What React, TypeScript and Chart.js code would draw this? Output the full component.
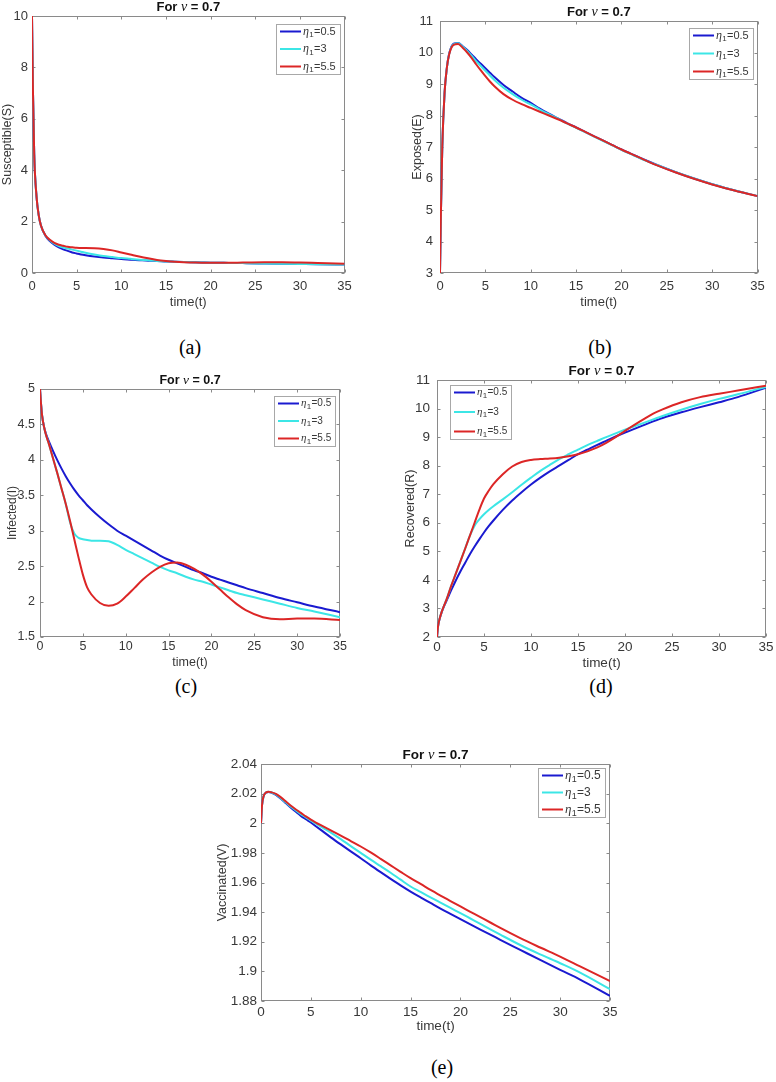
import React, { useEffect, useRef } from "react";
import { Chart, registerables } from "chart.js";

Chart.register(...registerables);

// ---------------- data ----------------
const TIME = [0, 0.1, 0.25, 0.5, 0.75, 1, 1.5, 2, 2.5, 3, 3.5, 4, 4.5, 5, 5.5, 6, 7, 8, 9, 10, 11, 12, 13, 14, 15, 16, 17, 18, 19, 20, 21, 22, 23, 24, 26, 28, 30, 32, 35];

const ETA1_VALUES = ["0.5", "3", "5.5"];
const NU_VALUE = "0.7";
const X_TITLE = "time(t)";
const CAPTIONS = ["(a)", "(b)", "(c)", "(d)", "(e)"];

const SUSCEPTIBLE_ETA_05 = [10, 7.2, 4.6, 3.0, 2.25, 1.85, 1.45, 1.24, 1.1, 1.0, 0.92, 0.86, 0.8, 0.76, 0.72, 0.69, 0.64, 0.6, 0.57, 0.54, 0.52, 0.5, 0.48, 0.47, 0.45, 0.44, 0.43, 0.42, 0.41, 0.4, 0.4, 0.39, 0.39, 0.38, 0.37, 0.36, 0.35, 0.34, 0.33];
const SUSCEPTIBLE_ETA_3 = [10, 7.2, 4.6, 3.0, 2.25, 1.85, 1.46, 1.27, 1.14, 1.05, 0.99, 0.95, 0.91, 0.87, 0.83, 0.79, 0.72, 0.66, 0.62, 0.58, 0.55, 0.52, 0.5, 0.47, 0.45, 0.44, 0.43, 0.42, 0.41, 0.4, 0.4, 0.39, 0.39, 0.38, 0.37, 0.36, 0.35, 0.34, 0.33];
const SUSCEPTIBLE_ETA_55 = [10, 7.2, 4.6, 3.0, 2.25, 1.85, 1.47, 1.29, 1.17, 1.1, 1.06, 1.02, 1.0, 0.98, 0.97, 0.97, 0.96, 0.93, 0.88, 0.8, 0.72, 0.64, 0.57, 0.51, 0.47, 0.44, 0.42, 0.41, 0.4, 0.4, 0.4, 0.4, 0.4, 0.41, 0.42, 0.42, 0.41, 0.39, 0.36];

const EXPOSED_ETA_05 = [3, 4.9, 7.0, 8.7, 9.5, 9.95, 10.28, 10.3, 10.2, 10.08, 9.93, 9.78, 9.64, 9.5, 9.36, 9.22, 8.97, 8.76, 8.56, 8.4, 8.22, 8.06, 7.91, 7.76, 7.62, 7.48, 7.34, 7.2, 7.06, 6.92, 6.79, 6.66, 6.54, 6.42, 6.2, 6.0, 5.82, 5.66, 5.44];
const EXPOSED_ETA_3 = [3, 4.9, 7.0, 8.7, 9.5, 9.94, 10.26, 10.29, 10.18, 10.05, 9.89, 9.72, 9.57, 9.42, 9.27, 9.13, 8.88, 8.68, 8.5, 8.35, 8.19, 8.04, 7.9, 7.75, 7.61, 7.47, 7.33, 7.19, 7.05, 6.91, 6.78, 6.65, 6.53, 6.42, 6.2, 6.0, 5.82, 5.66, 5.44];
const EXPOSED_ETA_55 = [3, 4.9, 7.0, 8.7, 9.5, 9.93, 10.24, 10.27, 10.15, 10.0, 9.82, 9.62, 9.43, 9.25, 9.08, 8.93, 8.68, 8.5, 8.36, 8.24, 8.12, 8.0, 7.88, 7.75, 7.62, 7.48, 7.34, 7.2, 7.06, 6.92, 6.79, 6.66, 6.53, 6.41, 6.19, 5.99, 5.81, 5.65, 5.44];

const INFECTED_ETA_05 = [5, 4.82, 4.62, 4.45, 4.35, 4.27, 4.13, 4.0, 3.88, 3.77, 3.67, 3.58, 3.5, 3.43, 3.36, 3.3, 3.19, 3.09, 3.0, 2.93, 2.86, 2.79, 2.72, 2.65, 2.59, 2.54, 2.49, 2.44, 2.4, 2.35, 2.31, 2.27, 2.23, 2.19, 2.12, 2.05, 1.99, 1.93, 1.85];
const INFECTED_ETA_3 = [5, 4.82, 4.62, 4.45, 4.33, 4.24, 4.03, 3.82, 3.6, 3.38, 3.12, 2.96, 2.9, 2.88, 2.87, 2.86, 2.86, 2.85, 2.8, 2.73, 2.67, 2.61, 2.55, 2.49, 2.44, 2.4, 2.35, 2.31, 2.28, 2.24, 2.2, 2.16, 2.12, 2.09, 2.03, 1.97, 1.91, 1.86, 1.78];
const INFECTED_ETA_55 = [5, 4.82, 4.62, 4.45, 4.33, 4.24, 4.03, 3.82, 3.6, 3.38, 3.14, 2.88, 2.62, 2.38, 2.2, 2.1, 1.98, 1.94, 1.97, 2.07, 2.19, 2.31, 2.41, 2.49, 2.54, 2.55, 2.52, 2.46, 2.38, 2.28, 2.17, 2.06, 1.96, 1.88, 1.78, 1.75, 1.76, 1.76, 1.74];

const RECOVERED_ETA_05 = [2, 2.35, 2.6, 2.87, 3.08, 3.26, 3.63, 3.98, 4.3, 4.6, 4.9, 5.17, 5.42, 5.66, 5.88, 6.08, 6.45, 6.78, 7.07, 7.34, 7.58, 7.8, 8.0, 8.2, 8.4, 8.56, 8.72, 8.87, 9.02, 9.16, 9.29, 9.42, 9.55, 9.67, 9.87, 10.05, 10.22, 10.4, 10.73];
const RECOVERED_ETA_3 = [2, 2.35, 2.6, 2.88, 3.1, 3.3, 3.78, 4.22, 4.66, 5.1, 5.55, 5.9, 6.12, 6.3, 6.45, 6.58, 6.82, 7.07, 7.33, 7.58, 7.82, 8.03, 8.23, 8.4, 8.56, 8.72, 8.86, 9.0, 9.13, 9.26, 9.38, 9.5, 9.62, 9.74, 9.96, 10.16, 10.34, 10.5, 10.76];
const RECOVERED_ETA_55 = [2, 2.35, 2.6, 2.88, 3.1, 3.3, 3.78, 4.22, 4.66, 5.1, 5.55, 6.0, 6.45, 6.85, 7.12, 7.35, 7.7, 7.97, 8.13, 8.2, 8.23, 8.25, 8.28, 8.33, 8.4, 8.5, 8.63, 8.8, 9.0, 9.22, 9.43, 9.63, 9.82, 9.97, 10.22, 10.4, 10.52, 10.63, 10.8];

const VACCINATED_ETA_05 = [2.0, 2.012, 2.018, 2.0207, 2.0211, 2.0208, 2.0192, 2.0165, 2.0135, 2.0105, 2.0077, 2.005, 2.0027, 2.0005, 1.998, 1.9955, 1.9905, 1.9857, 1.981, 1.9764, 1.9716, 1.967, 1.9625, 1.9581, 1.9539, 1.95, 1.9462, 1.9424, 1.9388, 1.9352, 1.9317, 1.9282, 1.9248, 1.9213, 1.9145, 1.9077, 1.901, 1.8945, 1.8835];
const VACCINATED_ETA_3 = [2.0, 2.012, 2.018, 2.0207, 2.0212, 2.0209, 2.0194, 2.0168, 2.014, 2.0112, 2.0087, 2.0062, 2.004, 2.0018, 1.9997, 1.9977, 1.9937, 1.9893, 1.9846, 1.98, 1.9754, 1.971, 1.9666, 1.9619, 1.9573, 1.9536, 1.95, 1.9464, 1.9428, 1.9393, 1.9357, 1.9321, 1.9284, 1.9248, 1.9178, 1.9115, 1.9055, 1.8992, 1.888];
const VACCINATED_ETA_55 = [2.0, 2.012, 2.018, 2.0208, 2.0213, 2.021, 2.0198, 2.0175, 2.0147, 2.0118, 2.0093, 2.007, 2.0046, 2.0024, 2.0005, 1.9987, 1.9952, 1.9917, 1.988, 1.9843, 1.9803, 1.976, 1.9716, 1.9672, 1.9629, 1.959, 1.955, 1.9512, 1.9475, 1.9438, 1.9402, 1.9366, 1.933, 1.9293, 1.9224, 1.9161, 1.91, 1.9034, 1.8935];

const Y_TITLES = ["Susceptible(S)", "Exposed(E)", "Infected(I)", "Recovered(R)", "Vaccinated(V)"];
const Y_MIN = [0, 3, 1.5, 2, 1.88];
const Y_MAX = [10, 11, 5, 11, 2.04];
const Y_STEP = [2, 1, 0.5, 1, 0.02];
const X_MIN = 0;
const X_MAX = 35;
const X_STEP = 5;

const PANEL_SERIES = [
  [SUSCEPTIBLE_ETA_05, SUSCEPTIBLE_ETA_3, SUSCEPTIBLE_ETA_55],
  [EXPOSED_ETA_05, EXPOSED_ETA_3, EXPOSED_ETA_55],
  [INFECTED_ETA_05, INFECTED_ETA_3, INFECTED_ETA_55],
  [RECOVERED_ETA_05, RECOVERED_ETA_3, RECOVERED_ETA_55],
  [VACCINATED_ETA_05, VACCINATED_ETA_3, VACCINATED_ETA_55],
];

// ---------------- styling / layout ----------------
const LINE_COLORS = ["#1a1ad0", "#3ce6e6", "#dc2626"];
const AXIS_COLOR = "#8a8a8a";
const TEXT_COLOR = "#383838";
const SANS = '"Liberation Sans", Arial, Helvetica, sans-serif';
const SERIF = '"Liberation Serif", "Times New Roman", serif';

// plot-area rectangles and text anchor positions (page pixels)
const LAYOUT = [
  { L: 32, T: 16, R: 345, B: 273, fs: 13, yfs: 12.5, lfs: 11, yTitleX: 7.5, xTickY: 286, xTitleY: 302, yPad: 4, legend: "right", lgTop: 8, lgH: 50, cap: [190, 347] },
  { L: 440, T: 21, R: 758, B: 273, fs: 13, yfs: 12.5, lfs: 11, yTitleX: 417, xTickY: 286, xTitleY: 302, yPad: 7, legend: "right", lgTop: 7, lgH: 51, cap: [600, 347] },
  { L: 40, T: 389, R: 340, B: 637, fs: 12.5, yfs: 12, lfs: 10, yTitleX: 12, xTickY: 647, xTitleY: 663, yPad: 5, legend: "right", lgTop: 7, lgH: 50, cap: [186, 686] },
  { L: 437, T: 380, R: 766, B: 637, fs: 13.5, yfs: 12.5, lfs: 10, yTitleX: 410, xTickY: 647, xTitleY: 663, yPad: 7, legend: "left", lgTop: 5, lgH: 54, cap: [601, 686] },
  { L: 261, T: 764, R: 610, B: 1001, fs: 13.5, yfs: 12.5, lfs: 12, yTitleX: 222, xTickY: 1012, xTitleY: 1026, yPad: 4, legend: "right", lgTop: 4, lgH: 49, cap: [442, 1067] },
];

function fmt(v: number) {
  return String(parseFloat(v.toFixed(4)));
}

function drawEta(ctx: CanvasRenderingContext2D, x: number, y: number, value: string, fs: number, doDraw: boolean) {
  let cx = x;
  ctx.font = `italic ${fs + 1}px ${SERIF}`;
  if (doDraw) ctx.fillText("\u03b7", cx, y);
  cx += ctx.measureText("\u03b7").width + 0.3;
  ctx.font = `${Math.round(fs * 0.75)}px ${SANS}`;
  if (doDraw) ctx.fillText("1", cx, y + fs * 0.32);
  cx += ctx.measureText("1").width + 0.3;
  ctx.font = `${fs}px ${SANS}`;
  if (doDraw) ctx.fillText("=" + value, cx, y);
  cx += ctx.measureText("=" + value).width;
  return cx - x;
}

const matlabPlugin = {
  id: "matlab",
  beforeDatasetsDraw(chart: any) {
    const { ctx, chartArea: a } = chart;
    const xs = chart.scales.x;
    const ys = chart.scales.y;
    const l = Math.round(a.left) + 0.5;
    const r = Math.round(a.right) - 0.5;
    const t = Math.round(a.top) + 0.5;
    const b = Math.round(a.bottom) - 0.5;
    ctx.save();
    ctx.strokeStyle = AXIS_COLOR;
    ctx.lineWidth = 1;
    ctx.strokeRect(l, t, r - l, b - t);
    const tl = 3;
    ctx.beginPath();
    xs.ticks.forEach((tk: any) => {
      const px = Math.round(xs.getPixelForValue(tk.value)) + 0.5;
      ctx.moveTo(px, b);
      ctx.lineTo(px, b - tl);
      ctx.moveTo(px, t);
      ctx.lineTo(px, t + tl);
    });
    ys.ticks.forEach((tk: any) => {
      const py = Math.round(ys.getPixelForValue(tk.value)) + 0.5;
      ctx.moveTo(l, py);
      ctx.lineTo(l + tl, py);
      ctx.moveTo(r, py);
      ctx.lineTo(r - tl, py);
    });
    ctx.stroke();
    ctx.restore();
  },
  afterDraw(chart: any, _args: any, opts: any) {
    const { ctx, chartArea: a } = chart;
    const fs = opts.fs;
    ctx.save();
    // title: For ν = 0.7
    ctx.fillStyle = "#111";
    ctx.textBaseline = "middle";
    const p1 = "For ";
    const p3 = " = " + NU_VALUE;
    const boldFont = `bold ${fs}px ${SANS}`;
    const nuFont = `italic ${fs + 1}px ${SERIF}`;
    ctx.font = boldFont;
    const w1 = ctx.measureText(p1).width;
    const w3 = ctx.measureText(p3).width;
    ctx.font = nuFont;
    const w2 = ctx.measureText("\u03bd").width;
    const total = w1 + w2 + w3;
    let tx = (a.left + a.right) / 2 - total / 2;
    const ty = a.top - 8.5;
    ctx.textAlign = "left";
    ctx.font = boldFont;
    ctx.fillText(p1, tx, ty);
    tx += w1;
    ctx.font = nuFont;
    ctx.fillText("\u03bd", tx, ty);
    tx += w2;
    ctx.font = boldFont;
    ctx.fillText(p3, tx, ty);

    // legend
    const lfs = opts.lfs;
    ctx.textBaseline = "middle";
    let maxW = 0;
    ETA1_VALUES.forEach((v) => {
      maxW = Math.max(maxW, drawEta(ctx, 0, 0, v, lfs, false));
    });
    const lineLen = 21;
    const boxW = Math.round(4 + lineLen + 2 + maxW + 4);
    const boxH = opts.lgH;
    const bx = opts.legend === "left" ? Math.round(a.left) + 13 : Math.round(a.right) - 5 - boxW;
    const by = Math.round(a.top) + opts.lgTop;
    ctx.fillStyle = "#fff";
    ctx.fillRect(bx, by, boxW, boxH);
    ctx.strokeStyle = "#a8a8a8";
    ctx.lineWidth = 1;
    ctx.strokeRect(bx + 0.5, by + 0.5, boxW, boxH);
    const step = (boxH - 15) / 2;
    ETA1_VALUES.forEach((v, i) => {
      const ry = by + 7.5 + i * step;
      ctx.strokeStyle = LINE_COLORS[i];
      ctx.lineWidth = 2;
      ctx.beginPath();
      ctx.moveTo(bx + 4, ry);
      ctx.lineTo(bx + 4 + lineLen, ry);
      ctx.stroke();
      ctx.fillStyle = TEXT_COLOR;
      drawEta(ctx, bx + 4 + lineLen + 2, ry, v, lfs, true);
    });
    ctx.restore();
  },
};

function buildGeometry(i: number) {
  const g = LAYOUT[i];
  const x0 = Math.max(0, Math.round(g.yTitleX - 0.6 * g.yfs));
  const y0 = Math.max(0, g.T - 20);
  const x1 = Math.min(776, g.R + 12);
  const y1 = Math.round(g.xTitleY + 0.6 * g.fs + 1);
  return {
    x0,
    y0,
    w: x1 - x0,
    h: y1 - y0,
    yAxisW: g.L - x0,
    padTop: g.T - y0,
    padRight: x1 - g.R,
    xAxisH: y1 - g.B,
    xTickPad: g.xTickY - g.B - 0.6 * g.fs,
    xTitleBottom: y1 - y0 - (g.xTitleY - y0) - 0.6 * g.fs,
    yTitleShift: Math.max(0, g.yTitleX - x0 - 0.6 * g.yfs),
  };
}

function buildConfig(i: number): any {
  const g = LAYOUT[i];
  const geo = buildGeometry(i);
  const font = { family: SANS, size: g.fs };
  const yFont = { family: SANS, size: g.yfs };
  return {
    type: "line",
    data: {
      datasets: PANEL_SERIES[i].map((ys, k) => ({
        label: "\u03b7\u2081=" + ETA1_VALUES[k],
        data: TIME.map((t, j) => ({ x: t, y: ys[j] })),
        borderColor: LINE_COLORS[k],
        backgroundColor: LINE_COLORS[k],
        borderWidth: 2,
        pointRadius: 0,
        fill: false,
        cubicInterpolationMode: "monotone",
        order: 3 - k,
      })),
    },
    options: {
      responsive: false,
      maintainAspectRatio: false,
      animation: false,
      events: [],
      layout: { padding: { left: 0, top: geo.padTop, right: geo.padRight, bottom: 0 } },
      plugins: {
        legend: { display: false },
        title: { display: false },
        tooltip: { enabled: false },
        matlab: { fs: g.fs, lfs: g.lfs, legend: g.legend, lgTop: g.lgTop, lgH: g.lgH },
      },
      scales: {
        x: {
          type: "linear",
          min: X_MIN,
          max: X_MAX,
          grid: { display: false, drawTicks: false },
          border: { display: false },
          ticks: {
            stepSize: X_STEP,
            autoSkip: false,
            maxRotation: 0,
            padding: geo.xTickPad,
            font,
            color: TEXT_COLOR,
            callback: (v: number) => fmt(v),
          },
          title: { display: true, text: X_TITLE, font, color: TEXT_COLOR, padding: { top: 0, bottom: Math.max(0, geo.xTitleBottom) } },
          afterFit: (s: any) => {
            s.height = geo.xAxisH;
          },
        },
        y: {
          type: "linear",
          min: Y_MIN[i],
          max: Y_MAX[i],
          grid: { display: false, drawTicks: false },
          border: { display: false },
          ticks: {
            stepSize: Y_STEP[i],
            autoSkip: false,
            padding: g.yPad,
            font,
            color: TEXT_COLOR,
            callback: (v: number) => fmt(v),
          },
          title: { display: true, text: Y_TITLES[i], font: yFont, color: TEXT_COLOR, padding: { top: geo.yTitleShift, bottom: 0 } },
          afterFit: (s: any) => {
            s.width = geo.yAxisW;
          },
        },
      },
    },
    plugins: [matlabPlugin],
  };
}

function Panel({ index }: { index: number }) {
  const ref = useRef<HTMLCanvasElement>(null);
  const geo = buildGeometry(index);
  useEffect(() => {
    if (!ref.current) return;
    const chart = new Chart(ref.current, buildConfig(index));
    return () => chart.destroy();
  }, [index]);
  return (
    <canvas
      ref={ref}
      width={geo.w}
      height={geo.h}
      style={{ position: "absolute", left: geo.x0, top: geo.y0, width: geo.w, height: geo.h }}
    />
  );
}

export default function App() {
  return (
    <div style={{ position: "absolute", left: 0, top: 0, width: 776, height: 1082, background: "#fff", overflow: "hidden" }}>
      {LAYOUT.map((_, i) => (
        <Panel key={i} index={i} />
      ))}
      {LAYOUT.map((g, i) => (
        <div
          key={"c" + i}
          style={{
            position: "absolute",
            left: g.cap[0],
            top: g.cap[1],
            transform: "translate(-50%, -50%)",
            fontFamily: SERIF,
            fontSize: 20,
            color: "#000",
            whiteSpace: "nowrap",
            lineHeight: 1,
          }}
        >
          {CAPTIONS[i]}
        </div>
      ))}
    </div>
  );
}
